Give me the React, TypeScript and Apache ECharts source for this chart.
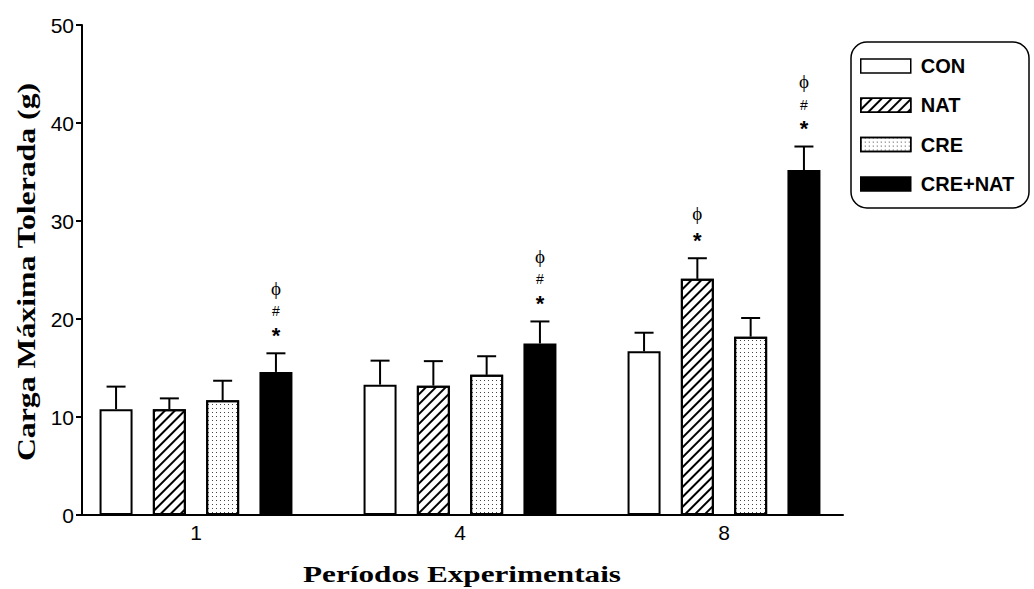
import React, { useEffect, useRef } from "react";
import * as echarts from "echarts";

const categories = ["1", "4", "8"];
const seriesNames = ["CON", "NAT", "CRE", "CRE+NAT"];
const conMean = [10.8, 13.3, 16.7];
const conErr = [2.3, 2.45, 1.9];
const natMean = [10.8, 13.2, 24.1];
const natErr = [1.1, 2.5, 2.1];
const creMean = [11.7, 14.3, 18.2];
const creErr = [2.0, 1.9, 1.9];
const creNatMean = [14.6, 17.5, 35.2];
const creNatErr = [1.9, 2.25, 2.4];
const conMarks: string[][] = [[], [], []];
const natMarks: string[][] = [[], [], ["*", "ϕ"]];
const creMarks: string[][] = [[], [], []];
const creNatMarks: string[][] = [["*", "#", "ϕ"], ["*", "#", "ϕ"], ["*", "#", "ϕ"]];
const yTicks = [0, 10, 20, 30, 40, 50];
const xTitle = "Períodos Experimentais";
const yTitle = "Carga Máxima Tolerada (g)";

const means = [conMean, natMean, creMean, creNatMean];
const errs = [conErr, natErr, creErr, creNatErr];
const marks = [conMarks, natMarks, creMarks, creNatMarks];

const BAR_W = 33;
const GAP = 0.615;
const STEP = BAR_W * (1 + GAP);

export default function App() {
  const ref = useRef<HTMLDivElement>(null);
  useEffect(() => {
    if (!ref.current) return;
    const chart = echarts.init(ref.current, null, { renderer: "svg" });

    const hatch = {
      symbol: "rect",
      symbolSize: 1,
      color: "#000",
      backgroundColor: "#fff",
      dashArrayX: [1, 0],
      dashArrayY: [1.5, 4.5],
      rotation: -Math.PI / 4,
    };
    const dots = {
      symbol: "rect",
      symbolSize: 1,
      color: "#444",
      backgroundColor: "#fff",
      dashArrayX: [1, 2.5],
      dashArrayY: [1, 2.5],
      rotation: 0,
    };
    const fills = ["#fff", "#fff", "#fff", "#000"];
    const decals: any[] = [null, hatch, dots, null];

    const errData: number[][] = [];
    const errMarks: string[][] = [];
    for (let s = 0; s < 4; s++) {
      for (let c = 0; c < categories.length; c++) {
        errData.push([c, s, means[s][c], errs[s][c]]);
        errMarks.push(marks[s][c]);
      }
    }

    const barSeries = seriesNames.map((name, s) => ({
      name,
      type: "bar",
      xAxisIndex: 1,
      yAxisIndex: 1,
      barWidth: BAR_W,
      barGap: GAP * 100 + "%",
      data: means[s],
      itemStyle: {
        color: fills[s],
        borderColor: "#000",
        borderWidth: 2,
        decal: decals[s] || undefined,
      },
      emphasis: { disabled: true },
    }));

    const option: any = {
      animation: false,
      aria: { enabled: false, decal: { show: false } },
      grid: [
        { left: 82, right: 191, top: 25, bottom: 74, outerBoundsMode: "none", containLabel: false },
        { left: 64, right: 178, top: 25, bottom: 74, outerBoundsMode: "none", containLabel: false },
      ],
      xAxis: [
        {
          type: "value",
          gridIndex: 0,
          min: 0,
          max: 1,
          axisLine: { show: true, onZero: false, lineStyle: { color: "#000", width: 2 } },
          axisTick: { show: false },
          axisLabel: { show: false },
          splitLine: { show: false },
        },
        {
          type: "category",
          gridIndex: 1,
          data: categories,
          axisLine: { show: false, onZero: false },
          axisTick: { show: false },
          axisLabel: {
            fontFamily: "Liberation Sans",
            fontSize: 21,
            color: "#000",
            margin: 7,
          },
        },
      ],
      yAxis: [
        {
          type: "value",
          gridIndex: 0,
          min: 0,
          max: 50,
          interval: 10,
          axisLine: { show: true, onZero: false, lineStyle: { color: "#000", width: 2 } },
          axisTick: { show: true, length: 6, lineStyle: { color: "#000", width: 2 } },
          axisLabel: {
            fontFamily: "Liberation Sans",
            fontSize: 21,
            color: "#000",
            margin: 8,
            formatter: (v: number) => (yTicks.includes(v) ? String(v) : ""),
          },
          splitLine: { show: false },
        },
        {
          type: "value",
          gridIndex: 1,
          min: 0,
          max: 50,
          show: false,
        },
      ],
      legend: {
        data: seriesNames.map((n, s) => ({
          name: n,
          icon: "rect",
          itemStyle: {
            color: fills[s],
            borderColor: "#000",
            borderWidth: 1.5,
            decal: decals[s] || undefined,
          },
        })),
        orient: "vertical",
        left: 855,
        top: 51,
        itemWidth: 50,
        itemHeight: 14,
        itemGap: 19.3,
        selectedMode: false,
        textStyle: {
          fontFamily: "Liberation Sans",
          fontWeight: "bold",
          fontSize: 20,
          color: "#000",
          lineHeight: 20,
          padding: [0, 0, 0, 5],
        },
      },
      graphic: [
        {
          type: "rect",
          shape: { x: 851, y: 42, width: 178, height: 166, r: 16 },
          style: { fill: "none", stroke: "#000", lineWidth: 1.5 },
          silent: true,
        },
        {
          type: "text",
          x: 462,
          y: 574,
          scaleX: 1.3,
          style: {
            text: xTitle,
            align: "center",
            verticalAlign: "middle",
            font: "bold 24px 'Liberation Serif'",
            fill: "#000",
          },
          silent: true,
        },
        {
          type: "text",
          x: 27,
          y: 272,
          rotation: Math.PI / 2,
          scaleX: 1.27,
          style: {
            text: yTitle,
            align: "center",
            verticalAlign: "middle",
            font: "bold 25px 'Liberation Serif'",
            fill: "#000",
          },
          silent: true,
        },
      ],
      series: [
        ...barSeries,
        {
          type: "custom",
          xAxisIndex: 1,
          yAxisIndex: 1,
          silent: true,
          data: errData,
          renderItem: (params: any, api: any) => {
            const c = api.value(0);
            const s = api.value(1);
            const m = api.value(2);
            const e = api.value(3);
            const base = api.coord([c, m]);
            const top = api.coord([c, m + e]);
            const x = base[0] + (s - 1.5) * STEP;
            const children: any[] = [
              {
                type: "line",
                shape: { x1: x, y1: base[1], x2: x, y2: top[1] },
                style: { stroke: "#000", lineWidth: 2 },
              },
              {
                type: "line",
                shape: { x1: x - 9.5, y1: top[1], x2: x + 9.5, y2: top[1] },
                style: { stroke: "#000", lineWidth: 2 },
              },
            ];
            const list = errMarks[params.dataIndex] || [];
            list.forEach((sym, k) => {
              const off = 22 + k * 20 + (sym === "ϕ" ? 3 : 0);
              let font = "bold 22px 'Liberation Sans'";
              let dy = 4;
              if (sym === "#") {
                font = "14px 'Liberation Sans'";
                dy = 0;
              } else if (sym === "ϕ") {
                font = "19px 'Liberation Serif'";
                dy = 0;
              }
              children.push({
                type: "text",
                style: {
                  text: sym,
                  x: x,
                  y: top[1] - off + dy,
                  align: "center",
                  verticalAlign: "middle",
                  font,
                  fill: "#000",
                },
              });
            });
            return { type: "group", children };
          },
        },
      ],
    };
    chart.setOption(option);
    return () => chart.dispose();
  }, []);
  return (
    <div
      ref={ref}
      style={{ position: "fixed", left: 0, top: 0, width: 1034, height: 589, background: "#fff" }}
    />
  );
}
